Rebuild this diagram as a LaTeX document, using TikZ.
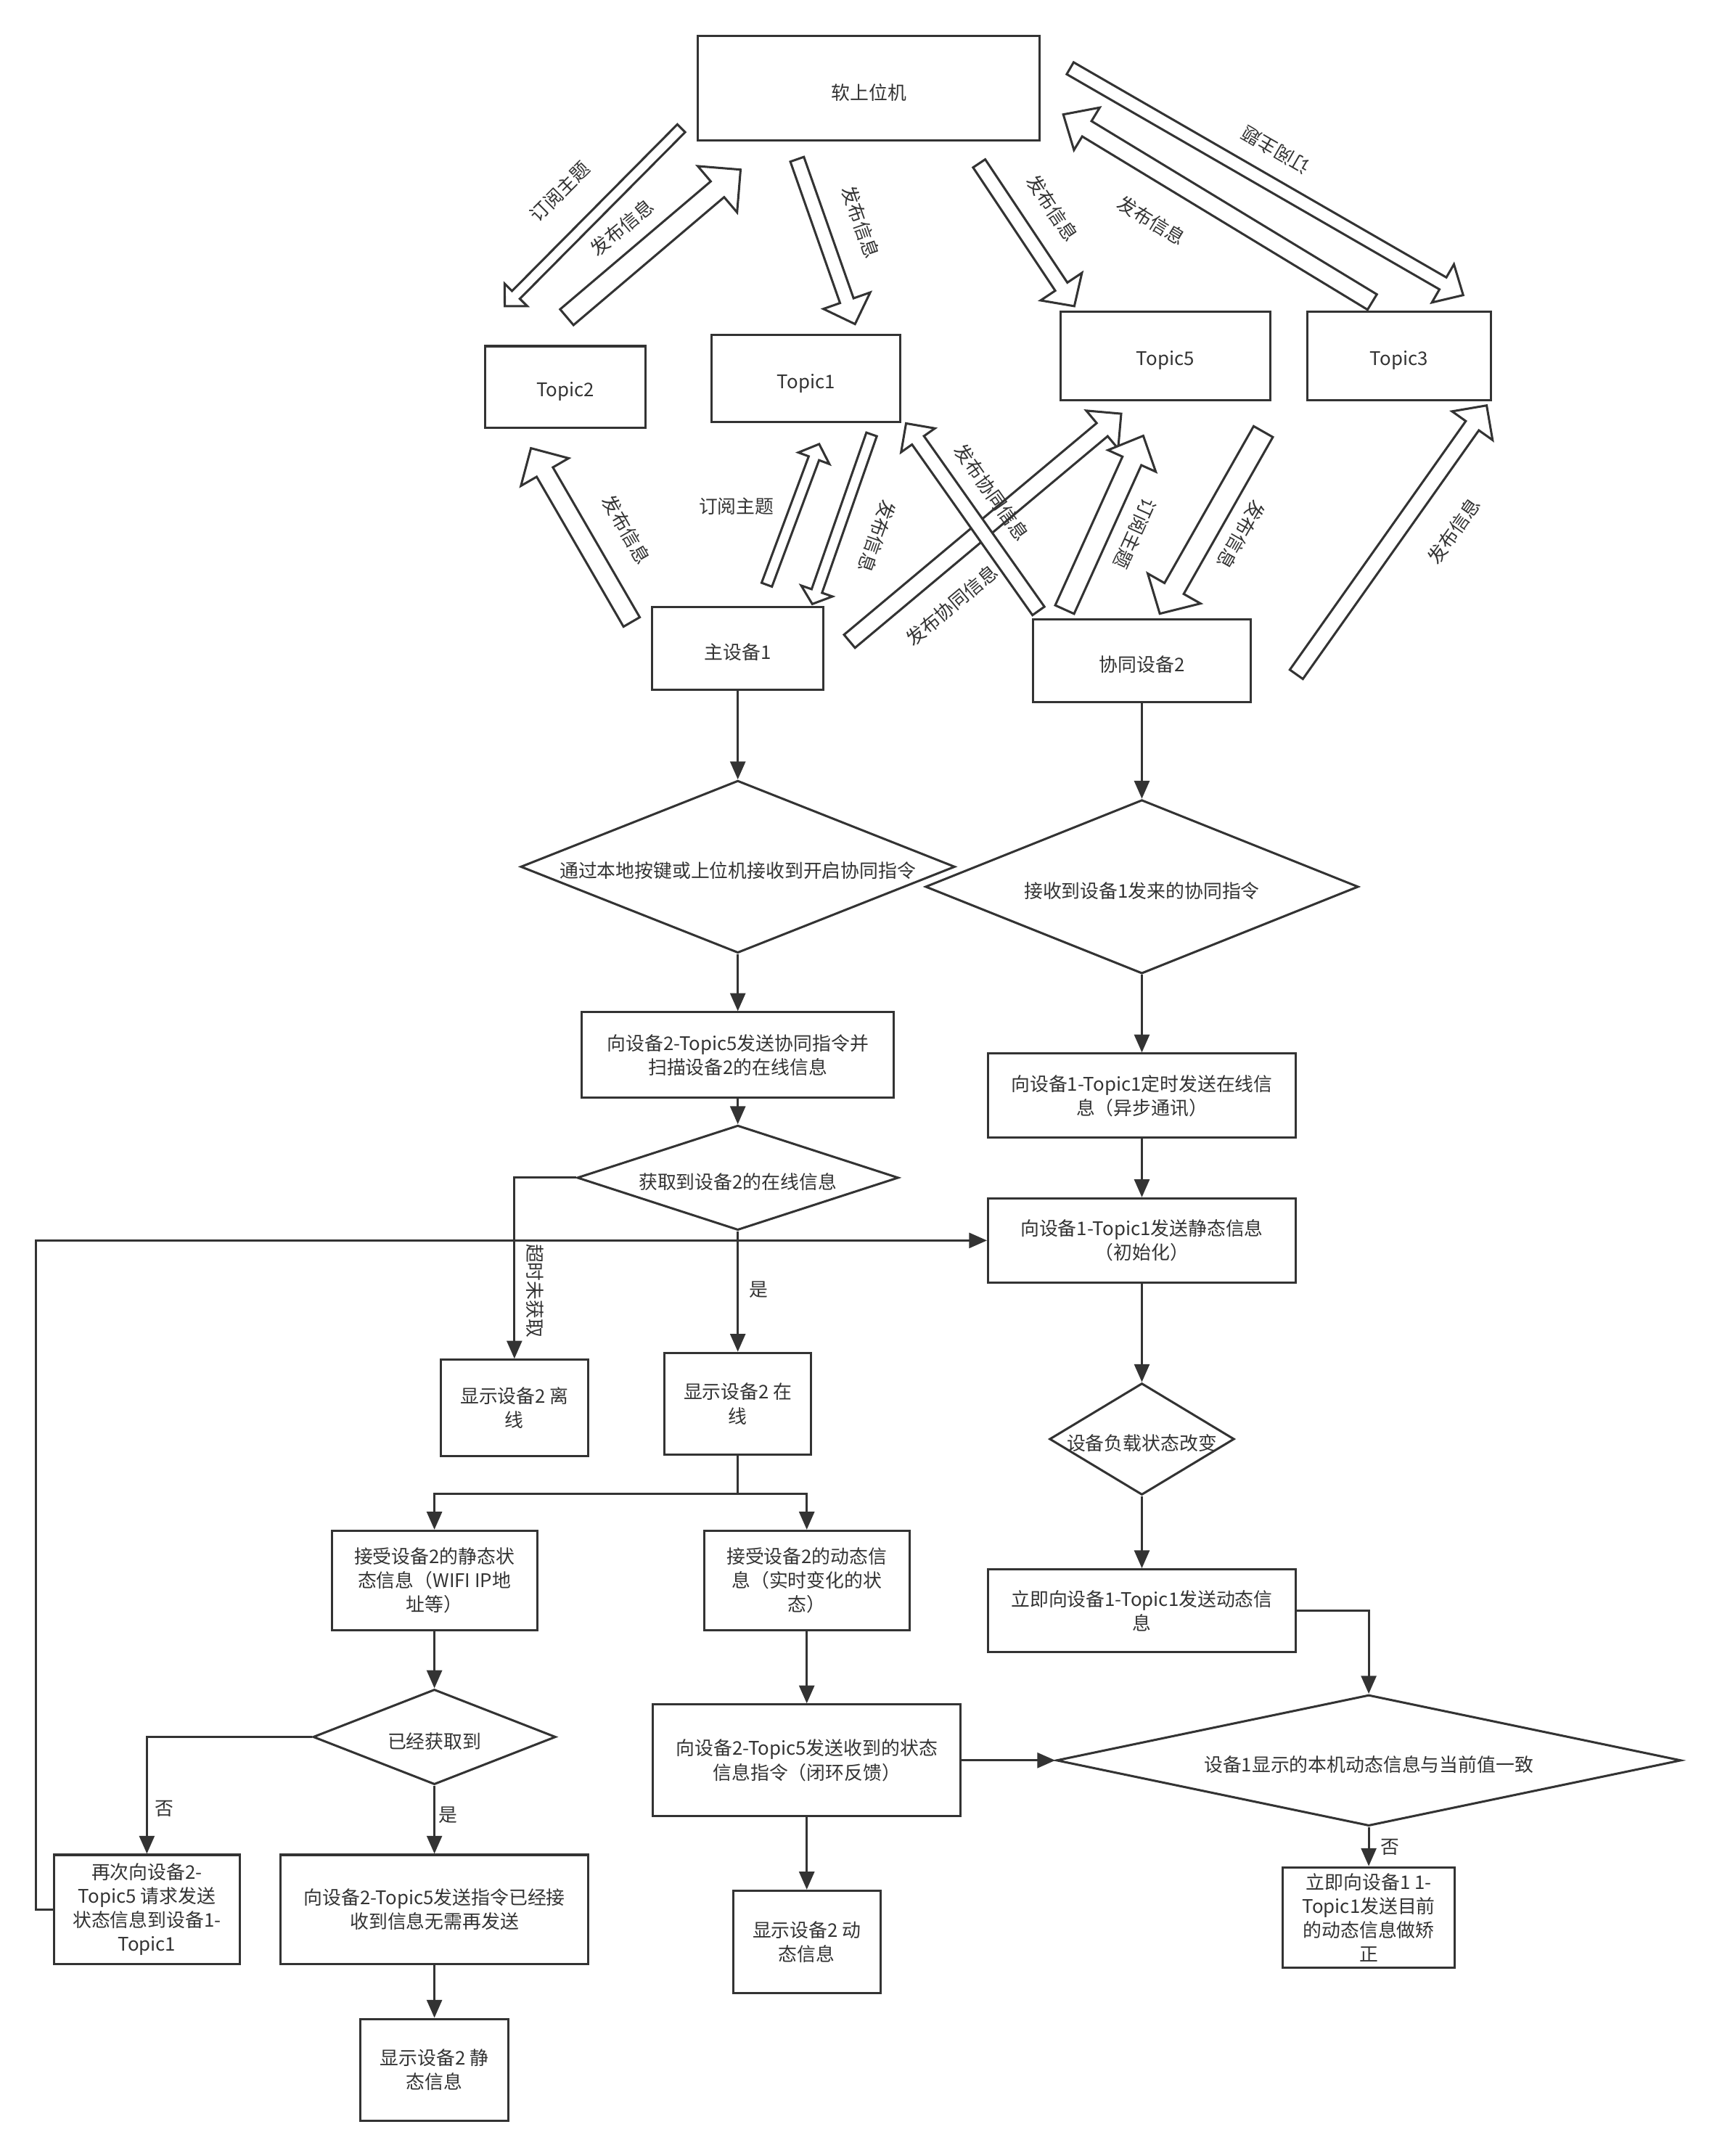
\documentclass[tikz,border=0pt]{standalone}
\usepackage{fontspec}
\setmainfont{Noto Sans CJK SC}
\usetikzlibrary{calc,shapes.geometric,arrows.meta}
\definecolor{ink}{HTML}{333333}
\newcommand{\dfont}{\fontsize{13.6}{17.4}\selectfont}
\newcommand{\dstrut}{\rule{0pt}{17.5pt}}
% hollow block arrow: from, to, half shaft, half head width, head length
\newcommand{\farrow}[5]{%
  \coordinate (fh) at ($(#2)!#5pt!(#1)$);
  \draw[flexarr] ($(#1)!#3pt!90:(#2)$) -- ($(fh)!#3pt!90:(#2)$) -- ($(fh)!#4pt!90:(#2)$)
     -- (#2) -- ($(fh)!#4pt!-90:(#2)$) -- ($(fh)!#3pt!-90:(#2)$) -- ($(#1)!#3pt!-90:(#2)$) -- cycle;
}
\tikzset{
  box/.style={draw=ink, line width=1.6pt, inner sep=0pt, align=center, text=ink, font=\dfont,
              execute at begin node=\dstrut},
  dia/.style={draw=ink, line width=1.6pt, diamond, inner sep=0pt, text=ink, font=\dfont,
              execute at begin node=\dstrut},
  conn/.style={draw=ink, line width=1.6pt, -{Triangle[length=13pt,width=11pt]}},
  flexarr/.style={draw=ink, line width=1.6pt, fill=white, line join=miter},
  lbl/.style={text=ink, font=\dfont, inner sep=0pt},
}
\begin{document}
\begin{tikzpicture}[x=1pt,y=-1pt]
\useasboundingbox (0,0) rectangle (1245,1563.4);

% ---------- top nodes ----------
\node[box, minimum width=248, minimum height=76] (pc) at (630,64) {软上位机};
\node[box, minimum width=116, minimum height=59] (t2) at (410,280.5) {Topic2};
\node[box, minimum width=137, minimum height=63] (t1) at (584.5,274.5) {Topic1};
\node[box, minimum width=152, minimum height=64] (t5) at (845,258) {Topic5};
\node[box, minimum width=133, minimum height=64] (t3) at (1014.5,258) {Topic3};
\node[box, minimum width=124, minimum height=60] (m1) at (535,470) {主设备1};
\node[box, minimum width=158, minimum height=60] (s2) at (828,479) {协同设备2};

% ---------- block arrow end points ----------
\coordinate (a1s) at (494,93);   \coordinate (a1e) at (366,222);
\coordinate (a2s) at (411,230);  \coordinate (a2e) at (537,123);
\coordinate (a3s) at (578,115.5);\coordinate (a3e) at (620,235);
\coordinate (a4s) at (710,118.5);\coordinate (a4e) at (779,222);
\coordinate (a5s) at (995,219);  \coordinate (a5e) at (771,83);
\coordinate (a6s) at (776,49.5); \coordinate (a6e) at (1061,214);
\coordinate (a7s) at (458,451);  \coordinate (a7e) at (385,325);
\coordinate (a8s) at (556,424);  \coordinate (a8e) at (594,322);
\coordinate (a9s) at (632,315);  \coordinate (a9e) at (589,438);
\coordinate (a10s) at (753,443); \coordinate (a10e) at (657,307);
\coordinate (a11s) at (616,465); \coordinate (a11e) at (813,300);
\coordinate (a12s) at (772,442); \coordinate (a12e) at (829,316);
\coordinate (a13s) at (916,313); \coordinate (a13e) at (841,445);
\coordinate (a14s) at (940,489); \coordinate (a14e) at (1078,294);

\farrow{a1s}{a1e}{4}{11.5}{11.5}
\farrow{a2s}{a2e}{7.5}{22}{22}
\farrow{a3s}{a3e}{5.2}{18}{18}
\farrow{a4s}{a4e}{5.3}{18}{17}
\farrow{a5s}{a5e}{6.5}{18}{20}
\farrow{a6s}{a6e}{5}{16}{17}
\farrow{a7s}{a7e}{6.8}{20}{20}
\farrow{a8s}{a8e}{4}{12}{11}
\farrow{a9s}{a9e}{4}{12}{10}
\farrow{a11s}{a11e}{6.2}{18}{18}
\farrow{a10s}{a10e}{5.3}{15}{15}
\farrow{a12s}{a12e}{7.5}{19}{20}
\farrow{a13s}{a13e}{8}{22}{21}
\farrow{a14s}{a14e}{5.8}{18}{18}

% ---------- block arrow labels ----------
\node[lbl, rotate=45] (l1) at (406,139) {订阅主题};
\node[lbl, rotate=40] (l2) at (451,165) {发布信息};
\node[lbl, rotate=-70.7] (l3) at (624,161) {发布信息};
\node[lbl, rotate=-56.3] (l4) at (763,151) {发布信息};
\node[lbl, rotate=-31.3] (l5) at (835,160) {发布信息};
\node[lbl, rotate=150] (l6) at (925,109) {订阅主题};
\node[lbl, rotate=-59.9] (l7) at (454,384) {发布信息};
\node[lbl] (l8) at (534,367) {订阅主题};
\node[lbl, rotate=-109.3] (l9) at (636,389) {发布信息};
\node[lbl, rotate=-54.8] (l10) at (719,357) {发布协同信息};
\node[lbl, rotate=40] (l11) at (690,439) {发布协同信息};
\node[lbl, rotate=-114.3] (l12) at (823,387) {订阅主题};
\node[lbl, rotate=-119.6] (l13) at (900,388) {发布信息};
\node[lbl, rotate=54.7] (l14) at (1054,385) {发布信息};

% ---------- left flow ----------
\node[dia, minimum width=315, minimum height=125] (d1) at (535,628.5) {\makebox[0pt]{通过本地按键或上位机接收到开启协同指令}};
\node[box, minimum width=226, minimum height=62] (b1) at (535,765) {向设备2-Topic5发送协同指令并\\扫描设备2的在线信息};
\node[dia, minimum width=233, minimum height=76] (d2) at (535,854) {\makebox[0pt]{获取到设备2的在线信息}};
\node[box, minimum width=107, minimum height=70] (off) at (373,1021) {显示设备2 离\\线};
\node[box, minimum width=106, minimum height=74] (on) at (535,1018) {显示设备2 在\\线};
\coordinate (br) at (535,1083);
\node[box, minimum width=149, minimum height=72] (st) at (315,1146) {接受设备2的静态状\\态信息（WIFI IP地\\址等）};
\node[box, minimum width=149, minimum height=72] (dy) at (585,1146) {接受设备2的动态信\\息（实时变化的状\\态）};
\node[dia, minimum width=176, minimum height=69] (d3) at (315,1259.5) {\makebox[0pt]{已经获取到}};
\node[box, minimum width=135, minimum height=79] (re) at (106.5,1384.5) {再次向设备2-\\Topic5 请求发送\\状态信息到设备1-\\Topic1};
\node[box, minimum width=223, minimum height=79] (ok) at (315,1384.5) {向设备2-Topic5发送指令已经接\\收到信息无需再发送};
\node[box, minimum width=107, minimum height=74] (sd) at (315,1501) {显示设备2 静\\态信息};
\node[box, minimum width=223, minimum height=81] (cmd) at (585,1276.5) {向设备2-Topic5发送收到的状态\\信息指令（闭环反馈）};
\node[box, minimum width=107, minimum height=74] (dd) at (585,1408) {显示设备2 动\\态信息};
\coordinate (loopL) at (26,1384.5);

% ---------- right flow ----------
\node[dia, minimum width=314, minimum height=126] (d4) at (828,643) {\makebox[0pt]{接收到设备1发来的协同指令}};
\node[box, minimum width=223, minimum height=61] (c1) at (828,794.5) {向设备1-Topic1定时发送在线信\\息（异步通讯）};
\node[box, minimum width=223, minimum height=61] (c2) at (828,899.5) {向设备1-Topic1发送静态信息\\（初始化）};
\node[dia, minimum width=134, minimum height=81] (d6) at (828,1043.5) {\makebox[0pt]{设备负载状态改变}};
\node[box, minimum width=223, minimum height=60] (c3) at (828,1168) {立即向设备1-Topic1发送动态信\\息};
\node[dia, minimum width=453, minimum height=95] (d5) at (992.5,1276.5) {\makebox[0pt]{设备1显示的本机动态信息与当前值一致}};
\node[box, minimum width=125, minimum height=73] (fx) at (992.5,1390.5) {立即向设备1 1-\\Topic1发送目前\\的动态信息做矫\\正};

% ---------- connectors ----------
\draw[conn] (m1.south) -- (d1.north);
\draw[conn] (d1.south) -- (b1.north);
\draw[conn] (b1.south) -- (d2.north);
\draw[conn] (d2.west) -| (off.north);
\draw[conn] (d2.south) -- (on.north);
\draw[conn] (on.south) -- (br) -| (st.north);
\draw[conn] (br) -| (dy.north);
\draw[conn] (st.south) -- (d3.north);
\draw[conn] (d3.west) -| (re.north);
\draw[conn] (d3.south) -- (ok.north);
\draw[conn] (ok.south) -- (sd.north);
\draw[conn] (re.west) -- (loopL) |- (c2.west);
\draw[conn] (dy.south) -- (cmd.north);
\draw[conn] (cmd.south) -- (dd.north);
\draw[conn] (cmd.east) -- (d5.west);
\draw[conn] (s2.south) -- (d4.north);
\draw[conn] (d4.south) -- (c1.north);
\draw[conn] (c1.south) -- (c2.north);
\draw[conn] (c2.south) -- (d6.north);
\draw[conn] (d6.south) -- (c3.north);
\draw[conn] (c3.east) -| (d5.north);
\draw[conn] (d5.south) -- (fx.north);

% ---------- connector labels ----------
\node[lbl, rotate=-90] (lto) at (388,936) {超时未获取};
\node[lbl] (lyes1) at (550,935) {是};
\node[lbl] (lno1) at (119,1311.5) {否};
\node[lbl] (lyes2) at (325,1316) {是};
\node[lbl] (lno2) at (1008,1339.5) {否};
\end{tikzpicture}
\end{document}
